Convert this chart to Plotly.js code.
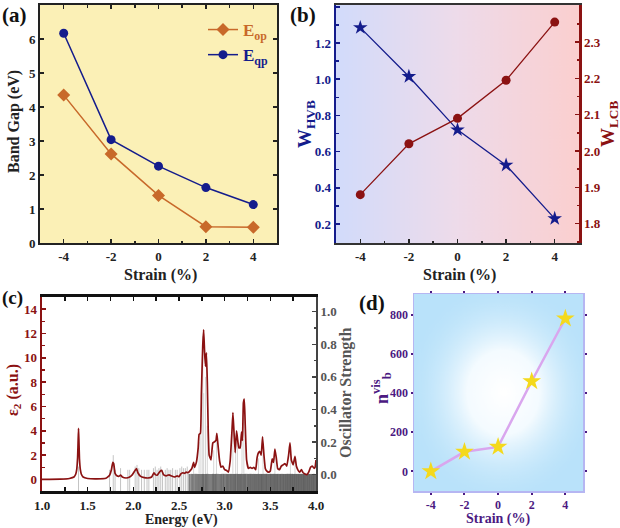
<!DOCTYPE html>
<html><head><meta charset="utf-8">
<script src="https://cdn.plot.ly/plotly-3.0.1.min.js"></script>
<style>html,body{margin:0;padding:0;background:#fff}#chart{width:620px;height:528px}</style>
</head><body><div id="chart"></div>
<script>
// ---------- DATA ----------
const strain = [-4, -2, 0, 2, 4];
const E_op = [4.35, 2.62, 1.40, 0.48, 0.46];
const E_qp = [6.17, 3.04, 2.26, 1.63, 1.13];
const W_HVB = [1.285, 1.015, 0.72, 0.525, 0.23];
const W_LCB = [1.88, 2.02, 2.09, 2.195, 2.355];
const nb_vis = [0, 100, 125, 460, 780];

const energy = [1.00,1.20,1.30,1.35,1.37,1.38,1.39,1.395,1.40,1.405,1.41,1.42,1.43,1.45,1.50,1.60,1.70,1.74,1.76,1.775,1.785,1.80,1.82,1.84,1.86,1.88,1.92,1.96,1.99,2.02,2.035,2.05,2.08,2.12,2.16,2.20,2.225,2.24,2.26,2.29,2.31,2.33,2.36,2.39,2.42,2.45,2.48,2.50,2.52,2.54,2.56,2.58,2.60,2.62,2.64,2.66,2.67,2.69,2.71,2.72,2.735,2.745,2.76,2.77,2.78,2.79,2.80,2.81,2.82,2.83,2.85,2.87,2.89,2.905,2.915,2.93,2.945,2.96,2.98,3.00,3.02,3.04,3.06,3.08,3.09,3.10,3.115,3.13,3.14,3.155,3.17,3.185,3.195,3.205,3.215,3.225,3.24,3.26,3.28,3.30,3.32,3.34,3.355,3.37,3.385,3.40,3.415,3.43,3.445,3.46,3.48,3.50,3.52,3.535,3.55,3.565,3.58,3.60,3.62,3.64,3.66,3.68,3.70,3.715,3.73,3.75,3.77,3.785,3.80,3.82,3.84,3.86,3.88,3.90,3.92,3.94,3.96,3.98,3.99,4.00];
const eps2 = [0.0,0.02,0.08,0.2,0.45,0.8,1.8,3.0,4.2,3.0,1.7,0.8,0.45,0.2,0.08,0.05,0.1,0.35,0.8,1.4,1.3,0.5,0.3,0.25,0.35,0.2,0.12,0.2,0.4,0.75,0.9,0.55,0.25,0.15,0.12,0.2,0.55,0.4,0.35,0.65,0.75,0.4,0.3,0.38,0.28,0.2,0.3,0.22,0.45,0.55,0.5,0.6,0.55,0.7,0.9,1.4,1.0,1.4,2.6,3.7,3.8,7.0,11.0,12.3,10.5,9.3,10.4,8.0,4.0,2.0,1.6,3.0,3.1,3.2,3.8,2.6,1.5,1.0,1.1,0.8,0.75,0.6,1.5,4.0,5.5,4.2,2.2,4.0,3.4,2.6,2.6,3.9,3.2,6.3,6.6,4.5,1.6,0.9,1.0,0.9,1.0,0.8,1.8,2.2,2.3,2.0,3.5,2.0,0.9,0.7,0.6,0.7,1.7,1.4,2.5,1.8,0.9,0.8,1.1,1.2,1.3,1.1,2.0,3.0,1.6,1.2,1.9,1.1,0.8,0.6,0.8,0.55,0.45,0.4,0.6,1.0,1.1,0.9,1.0,1.6];

// oscillator strengths: isolated transitions
const oscE_sparse = [1.40,1.74,1.78,1.80,1.86,1.94,1.96,2.02,2.04,2.06,2.09,2.12,2.15,2.17,2.22,2.24,2.26,2.28,2.30,2.32,2.35,2.37,2.39,2.41,2.43,2.46,2.48,2.51,2.53,2.55,2.57,2.59];
const oscF_sparse = [0.05,0.03,0.12,0.03,0.04,0.03,0.03,0.05,0.06,0.04,0.03,0.03,0.03,0.03,0.04,0.05,0.03,0.04,0.05,0.03,0.03,0.04,0.03,0.03,0.04,0.03,0.03,0.04,0.05,0.04,0.04,0.05];
// strong transitions
const oscE_strong = [2.66,2.72,2.74,2.76,2.77,2.79,2.81,2.88,2.91,3.09,3.12,3.14,3.19,3.21,3.37,3.42,3.55,3.72,3.77];
const oscF_strong = [0.06,0.2,0.25,0.85,0.5,0.6,0.3,0.15,0.2,0.3,0.15,0.2,0.2,0.35,0.1,0.15,0.12,0.15,0.08];
// dense weak transitions (f ~ 0.005)
const oscE_weak = [2.61,2.62,2.635,2.645,2.655,2.67,2.68,2.69,2.70,2.71,2.72,2.73,2.74,2.75,2.76,2.765,2.775,2.785,2.795,2.80,2.81,2.82,2.83,2.84,2.85,2.86,2.87,2.875,2.885,2.895,2.90,2.91,2.92,2.93,2.94,2.95,2.96,2.965,2.975,2.985,2.99,3.00,3.01,3.02,3.025,3.035,3.04,3.05,3.06,3.065,3.075,3.08,3.09,3.10,3.105,3.115,3.12,3.13,3.14,3.145,3.155,3.16,3.17,3.175,3.185,3.19,3.20,3.21,3.215,3.225,3.23,3.24,3.25,3.255,3.265,3.27,3.28,3.285,3.295,3.30,3.31,3.315,3.325,3.33,3.34,3.345,3.355,3.36,3.37,3.375,3.385,3.39,3.40,3.405,3.41,3.42,3.425,3.435,3.44,3.45,3.455,3.46,3.47,3.475,3.485,3.49,3.50,3.505,3.51,3.52,3.525,3.535,3.54,3.545,3.555,3.56,3.57,3.575,3.58,3.59,3.595,3.605,3.61,3.615,3.625,3.63,3.64,3.645,3.65,3.66,3.665,3.67,3.68,3.685,3.69,3.70,3.705,3.71,3.72,3.725,3.73,3.74,3.745,3.75,3.76,3.765,3.77,3.78,3.785,3.79,3.80,3.805,3.81,3.82,3.825,3.83,3.84,3.845,3.85,3.86,3.865,3.87,3.875,3.885,3.89,3.895,3.905,3.91,3.915,3.925,3.93,3.935,3.945,3.95,3.955,3.965,3.97,3.975,3.985,3.99,3.995];
const oscF_weak = 0.005;

// ---------- STYLE ----------
const SERIF = 'Liberation Serif';
const NAVY = '#141c8c', DRED = '#8b1212', ORANGE = '#c8692a', PURPLE = '#4c1a82', GRAY = '#555555';
const STICK_BASE = -0.1;
const W = 620, H = 528;
const dom = {
  a: {x:[40/W, 277/W], y:[1-243/H, 1-5/H]},
  b: {x:[336/W, 579/W], y:[1-243/H, 1-5/H]},
  c: {x:[42/W, 316/W], y:[1-491/H, 1-297/H]},
  d: {x:[414/W, 583/W], y:[1-491/H, 1-294/H]}
};

function sticks(es, fs) {
  const x = [], y = [];
  es.forEach((e, i) => { const f = Array.isArray(fs) ? fs[i] : fs; x.push(e, e, null); y.push(STICK_BASE, f, null); });
  return {x, y};
}

function gradURL(kind) {
  const c = document.createElement('canvas'); c.width = 300; c.height = 300;
  const g = c.getContext('2d');
  if (kind === 'h') {
    const lg = g.createLinearGradient(0, 0, 300, 0);
    lg.addColorStop(0, '#d2dbfb'); lg.addColorStop(0.5, '#eedbea'); lg.addColorStop(1, '#fbcfcf');
    g.fillStyle = lg; g.fillRect(0, 0, 300, 300);
  } else {
    g.fillStyle = '#b9e2fa'; g.fillRect(0, 0, 300, 300);
    const rg = g.createRadialGradient(160, 150, 5, 155, 150, 175);
    rg.addColorStop(0, '#ffffff'); rg.addColorStop(0.35, '#f4fbff'); rg.addColorStop(1, 'rgba(185,226,250,0)');
    g.fillStyle = rg; g.fillRect(0, 0, 300, 300);
  }
  return c.toDataURL('image/png');
}

const tickF = (col, size) => ({family: SERIF, size: size || 13, color: col, weight: 'bold'});

const s1 = sticks(oscE_sparse, oscF_sparse), s2 = sticks(oscE_weak, oscF_weak), s3 = sticks(oscE_strong, oscF_strong);

const traces = [
  {x: strain, y: E_op, xaxis: 'x', yaxis: 'y', mode: 'lines+markers', name: '<span style="color:' + ORANGE + '">E<sub>op</sub></span>',
   line: {color: ORANGE, width: 1.5}, marker: {symbol: 'diamond', size: 10, color: ORANGE}},
  {x: strain, y: E_qp, xaxis: 'x', yaxis: 'y', mode: 'lines+markers', name: '<span style="color:' + NAVY + '">E<sub>qp</sub></span>',
   line: {color: NAVY, width: 1.5}, marker: {symbol: 'circle', size: 9, color: NAVY}},
  {x: strain, y: W_HVB, xaxis: 'x2', yaxis: 'y2', mode: 'lines+markers', showlegend: false,
   line: {color: NAVY, width: 1.3}, marker: {symbol: 'star', size: 11, color: NAVY}},
  {x: strain, y: W_LCB, xaxis: 'x2', yaxis: 'y3', mode: 'lines+markers', showlegend: false,
   line: {color: DRED, width: 1.3}, marker: {symbol: 'circle', size: 9, color: DRED}},
  {x: s3.x, y: s3.y, xaxis: 'x3', yaxis: 'y4', mode: 'lines', showlegend: false, line: {color: '#d6d6d6', width: 1}},
  {x: s1.x, y: s1.y, xaxis: 'x3', yaxis: 'y4', mode: 'lines', showlegend: false, line: {color: '#c4c4c4', width: 1}},
  {x: s2.x, y: s2.y, xaxis: 'x3', yaxis: 'y4', mode: 'lines', showlegend: false, line: {color: 'rgba(85,85,85,0.6)', width: 1.6}},
  {x: energy, y: eps2, xaxis: 'x3', yaxis: 'y5', mode: 'lines', showlegend: false, line: {color: DRED, width: 1.7, shape: 'spline', smoothing: 0.3}},
  {x: strain, y: nb_vis, xaxis: 'x4', yaxis: 'y6', mode: 'lines+markers', showlegend: false,
   line: {color: '#d9a6ee', width: 2.5}, marker: {symbol: 'star', size: 14, color: '#f4d91c'}}
];

const strainAxis = (d, anchor, col, extra) => Object.assign({
  domain: d, anchor: anchor, range: [-5, 5], tickvals: [-4, -2, 0, 2, 4], ticktext: ['-4', '-2', '0', '2', '4'],
  ticks: 'inside', ticklen: 4, tickwidth: 1.5, tickcolor: '#222', showline: true, linecolor: '#222', linewidth: 2,
  mirror: 'allticks', showgrid: false, zeroline: false, tickfont: tickF(col || '#222'),
  minor: {tickvals: [-5, -3, -1, 1, 3, 5], ticks: 'inside', ticklen: 2.5, tickcolor: '#222'}
}, extra || {});

const layout = {
  width: W, height: H, autosize: false, margin: {l: 0, r: 0, t: 0, b: 0},
  paper_bgcolor: '#ffffff', plot_bgcolor: 'rgba(0,0,0,0)',
  font: {family: SERIF, color: '#222'},
  showlegend: true,
  legend: {x: 203/W, y: 1-12/H, xanchor: 'left', yanchor: 'top', bgcolor: 'rgba(0,0,0,0)', font: {family: SERIF, size: 17, weight: 'bold'}, itemwidth: 30, tracegroupgap: 0},
  xaxis: strainAxis(dom.a.x, 'y'),
  yaxis: {domain: dom.a.y, anchor: 'x', range: [0, 7], dtick: 1, ticks: 'inside', ticklen: 4, tickwidth: 1.5, tickcolor: '#222',
          showline: true, linecolor: '#222', linewidth: 2, mirror: 'allticks', showgrid: false, zeroline: false, tickfont: tickF('#222')},
  xaxis2: strainAxis(dom.b.x, 'y2', '#222', {linecolor: '#333', mirror: true}),
  yaxis2: {domain: dom.b.y, anchor: 'x2', range: [0.095, 1.41], tickvals: [0.2,0.4,0.6,0.8,1.0,1.2,1.4], ticktext: ['0.2','0.4','0.6','0.8','1.0','1.2','1.4'],
           ticks: 'inside', ticklen: 4, tickwidth: 1.5, tickcolor: NAVY, showline: true, linecolor: NAVY, linewidth: 2.5,
           showgrid: false, zeroline: false, tickfont: tickF(NAVY), minor: {dtick: 0.1, ticks: 'inside', ticklen: 2.5, tickcolor: NAVY}},
  yaxis3: {overlaying: 'y2', side: 'right', anchor: 'x2', range: [1.747, 2.402], tickvals: [1.8,1.9,2.0,2.1,2.2,2.3,2.4], ticktext: ['1.8','1.9','2.0','2.1','2.2','2.3','2.4'],
           ticks: 'inside', ticklen: 4, tickwidth: 1.5, tickcolor: DRED, showline: true, linecolor: DRED, linewidth: 2.5,
           showgrid: false, zeroline: false, tickfont: tickF(DRED), minor: {dtick: 0.05, ticks: 'inside', ticklen: 2.5, tickcolor: DRED}},
  xaxis3: {domain: dom.c.x, anchor: 'y4', range: [1, 4], tickvals: [1,1.5,2,2.5,3,3.5,4], ticktext: ['1.0','1.5','2.0','2.5','3.0','3.5','4.0'],
           ticks: 'inside', ticklen: 4, tickwidth: 1.5, tickcolor: '#111', showline: true, linecolor: '#111', linewidth: 3, mirror: 'allticks',
           showgrid: false, zeroline: false, tickfont: tickF('#222'), minor: {dtick: 0.25, ticks: 'inside', ticklen: 2.5, tickcolor: '#111'}},
  yaxis4: {domain: dom.c.y, anchor: 'x3', side: 'right', range: [-0.1, 1.09], tickvals: [0,0.2,0.4,0.6,0.8,1.0], ticktext: ['0.0','0.2','0.4','0.6','0.8','1.0'],
           ticks: 'inside', ticklen: 4, tickwidth: 1.5, tickcolor: '#444', showline: true, linecolor: '#444', linewidth: 2,
           showgrid: false, zeroline: false, tickfont: tickF(GRAY), minor: {dtick: 0.1, ticks: 'inside', ticklen: 2.5, tickcolor: '#444'}},
  yaxis5: {overlaying: 'y4', side: 'left', anchor: 'x3', range: [-0.95, 15], tickvals: [0,2,4,6,8,10,12,14],
           ticks: 'inside', ticklen: 4, tickwidth: 1.5, tickcolor: DRED, showline: true, linecolor: DRED, linewidth: 2.5,
           showgrid: false, zeroline: false, tickfont: tickF(DRED), minor: {dtick: 1, ticks: 'inside', ticklen: 2.5, tickcolor: DRED}},
  xaxis4: {domain: dom.d.x, anchor: 'y6', range: [-5, 5.05], tickvals: [-4,-2,0,2,4], ticktext: ['-4','-2','0','2','4'],
           ticks: 'outside', ticklen: 2, tickwidth: 2, tickcolor: PURPLE, showline: true, linecolor: '#b6b6f2', linewidth: 1.5, mirror: 'allticks',
           showgrid: false, zeroline: false, tickfont: tickF(PURPLE, 12)},
  yaxis6: {domain: dom.d.y, anchor: 'x4', range: [-100, 905], tickvals: [0,200,400,600,800],
           ticks: 'outside', ticklen: 2, tickwidth: 2, tickcolor: PURPLE, showline: true, linecolor: '#b6b6f2', linewidth: 1.5, mirror: 'allticks',
           showgrid: false, zeroline: false, tickfont: tickF(PURPLE, 12)},
  shapes: [
    {type: 'rect', xref: 'paper', yref: 'paper', x0: dom.a.x[0], x1: dom.a.x[1], y0: dom.a.y[0], y1: dom.a.y[1], fillcolor: '#fbf0b6', line: {width: 0}, layer: 'below'}
  ],
  images: [
    {source: gradURL('h'), xref: 'paper', yref: 'paper', x: dom.b.x[0], y: dom.b.y[1], sizex: dom.b.x[1]-dom.b.x[0], sizey: dom.b.y[1]-dom.b.y[0], sizing: 'stretch', layer: 'below', xanchor: 'left', yanchor: 'top'},
    {source: gradURL('r'), xref: 'paper', yref: 'paper', x: dom.d.x[0], y: dom.d.y[1], sizex: dom.d.x[1]-dom.d.x[0], sizey: dom.d.y[1]-dom.d.y[0], sizing: 'stretch', layer: 'below', xanchor: 'left', yanchor: 'top'}
  ],
  annotations: []
};

function ann(text, px, py, opts) {
  layout.annotations.push(Object.assign({text: text, xref: 'paper', yref: 'paper', x: px/W, y: 1-py/H, showarrow: false,
    xanchor: 'center', yanchor: 'middle', font: {family: SERIF, size: 14, color: '#222', weight: 'bold'}}, opts || {}));
}
const bf = (size, color) => ({family: SERIF, size: size, color: color, weight: 'bold'});
ann('(a)', 14, 15, {font: bf(21, '#111')});
ann('(b)', 303, 15, {font: bf(21, '#111')});
ann('(c)', 12, 298, {font: bf(19, '#111')});
ann('(d)', 372, 303, {font: bf(21, '#111')});
ann('Band Gap (eV)', 14, 122, {textangle: -90, font: bf(16, '#222')});
ann('Strain (%)', 160, 275, {font: bf(16, '#222')});
ann('Strain (%)', 459, 275, {font: bf(16, '#222')});
ann('W<sub>HVB</sub>', 306, 124, {textangle: -90, font: bf(19, NAVY)});
ann('W<sub>LCB</sub>', 609, 124, {textangle: -90, font: bf(19, DRED)});
ann('ε<sub>2</sub> (a.u.)', 13, 390, {textangle: -90, font: bf(16, DRED)});
ann('Oscillator Strength', 346, 393, {textangle: -90, font: bf(16, GRAY)});
ann('Energy (eV)', 181, 520, {font: bf(14, '#222')});
ann('n<sup>vis</sup><sub>b</sub>', 381, 388, {textangle: -90, font: bf(18, PURPLE)});
ann('Strain (%)', 498, 519, {font: bf(14, PURPLE)});

Plotly.newPlot('chart', traces, layout, {displayModeBar: false, staticPlot: true});
</script>
</body></html>
